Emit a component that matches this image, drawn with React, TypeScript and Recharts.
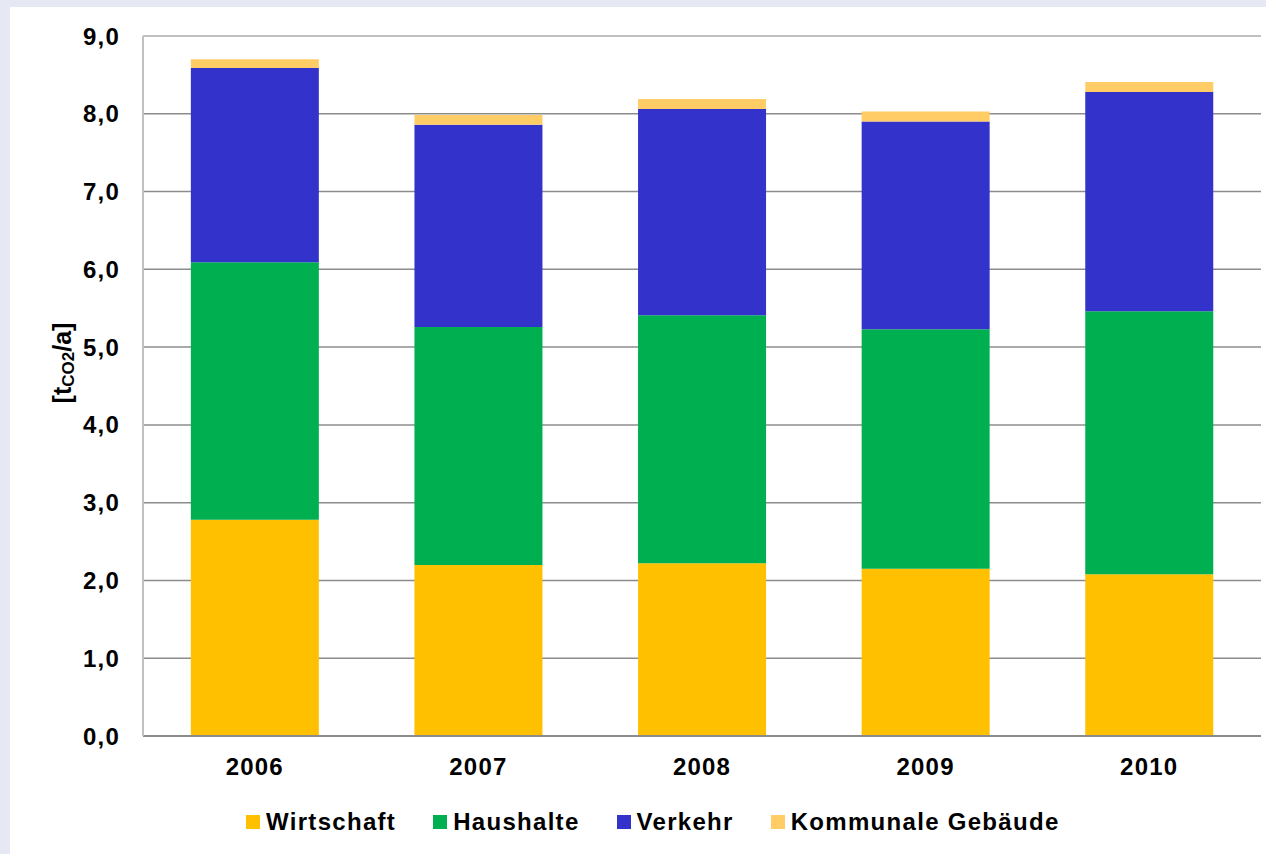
import React from 'react';
import { BarChart, Bar, XAxis, YAxis, CartesianGrid, Legend, ReferenceLine } from 'recharts';

const years = ['2006', '2007', '2008', '2009', '2010'];
const wirtschaft = [2.78, 2.2, 2.22, 2.15, 2.08];
const haushalte = [3.31, 3.06, 3.19, 3.08, 3.38];
const verkehr = [2.5, 2.6, 2.65, 2.67, 2.82];
const kommunale = [0.11, 0.125, 0.13, 0.13, 0.13];
const yTicks = [0, 1, 2, 3, 4, 5, 6, 7, 8, 9];

const seriesNames = ['Wirtschaft', 'Haushalte', 'Verkehr', 'Kommunale Gebäude'];
const seriesKeys = ['wirtschaft', 'haushalte', 'verkehr', 'kommunale'];
const seriesColors = ['#FFC000', '#00B050', '#3333CC', '#FFCC66'];

const data = years.map((y, i) => ({
  year: y,
  wirtschaft: wirtschaft[i],
  haushalte: haushalte[i],
  verkehr: verkehr[i],
  kommunale: kommunale[i],
}));

const FONT = '"Liberation Sans", Arial, sans-serif';
const tickStyle = { fontFamily: FONT, fontSize: 24, fontWeight: 700, fill: '#000', letterSpacing: 1.2 };

const YLabel = (props: any) => {
  const vb = props.viewBox || { x: 0, y: 0, width: 0, height: 0 };
  const cx = vb.x + 62;
  const cy = vb.y + vb.height / 2 - 23;
  return (
    <text
      x={cx}
      y={cy}
      transform={`rotate(-90, ${cx}, ${cy})`}
      textAnchor="middle"
      dominantBaseline="central"
      style={{ fontFamily: FONT, fontSize: 25, fontWeight: 700, fill: '#000' }}
    >
      <tspan>[t</tspan>
      <tspan fontSize={17} dy={6}>CO2</tspan>
      <tspan dy={-6}>/a]</tspan>
    </text>
  );
};

const LegendContent = () => (
  <div style={{ display: 'flex', alignItems: 'center', whiteSpace: 'nowrap' }}>
    {seriesNames.map((n, i) => (
      <div key={n} style={{ display: 'flex', alignItems: 'center', marginRight: i < seriesNames.length - 1 ? 37 : 0 }}>
        <span style={{ display: 'inline-block', width: 14, height: 14, background: seriesColors[i], marginRight: 6 }} />
        <span style={{ fontFamily: FONT, fontSize: 24, fontWeight: 700, color: '#000', letterSpacing: 1.3, lineHeight: '28px' }}>{n}</span>
      </div>
    ))}
  </div>
);

export default function App() {
  return (
    <div style={{ position: 'absolute', left: 0, top: 0, width: 1266, height: 854, background: '#E6E8F4', overflow: 'hidden' }}>
      <div style={{ position: 'absolute', left: 10, top: 7, width: 1256, height: 847, background: '#FFFFFF' }} />
      <div style={{ position: 'absolute', left: 0, top: 0 }}>
        <BarChart
          width={1266}
          height={854}
          data={data}
          margin={{ top: 36, right: 5, left: 0, bottom: 58 }}
          barCategoryGap="21.4%"
        >
          <CartesianGrid vertical={false} stroke="#8C8C8C" strokeWidth={1.5} />
          <XAxis
            dataKey="year"
            height={60}
            axisLine={{ stroke: '#8C8C8C', strokeWidth: 2 }}
            tickLine={false}
            tickSize={0}
            tickMargin={22}
            tick={tickStyle}
          />
          <YAxis
            width={143}
            domain={[0, 9]}
            ticks={yTicks}
            interval={0}
            tickFormatter={(v: number) => v.toFixed(1).replace('.', ',')}
            axisLine={{ stroke: '#C0C0C0', strokeWidth: 2 }}
            tickLine={false}
            tickSize={0}
            tickMargin={23}
            tick={tickStyle}
            label={{ content: YLabel }}
          />
          <YAxis
            yAxisId="right"
            orientation="right"
            width={0}
            domain={[0, 9]}
            tick={false}
            tickLine={false}
            axisLine={{ stroke: '#C8C8C8', strokeWidth: 2 }}
          />
          <ReferenceLine y={9} stroke="#C0C0C0" strokeWidth={2} />
          {seriesKeys.map((k, i) => (
            <Bar key={k} dataKey={k} name={seriesNames[i]} stackId="a" fill={seriesColors[i]} isAnimationActive={false} />
          ))}
          <Legend
            layout="horizontal"
            verticalAlign="middle"
            align="center"
            content={<LegendContent />}
            wrapperStyle={{ left: 246, top: 808, width: 'auto' }}
          />
        </BarChart>
      </div>
    </div>
  );
}
